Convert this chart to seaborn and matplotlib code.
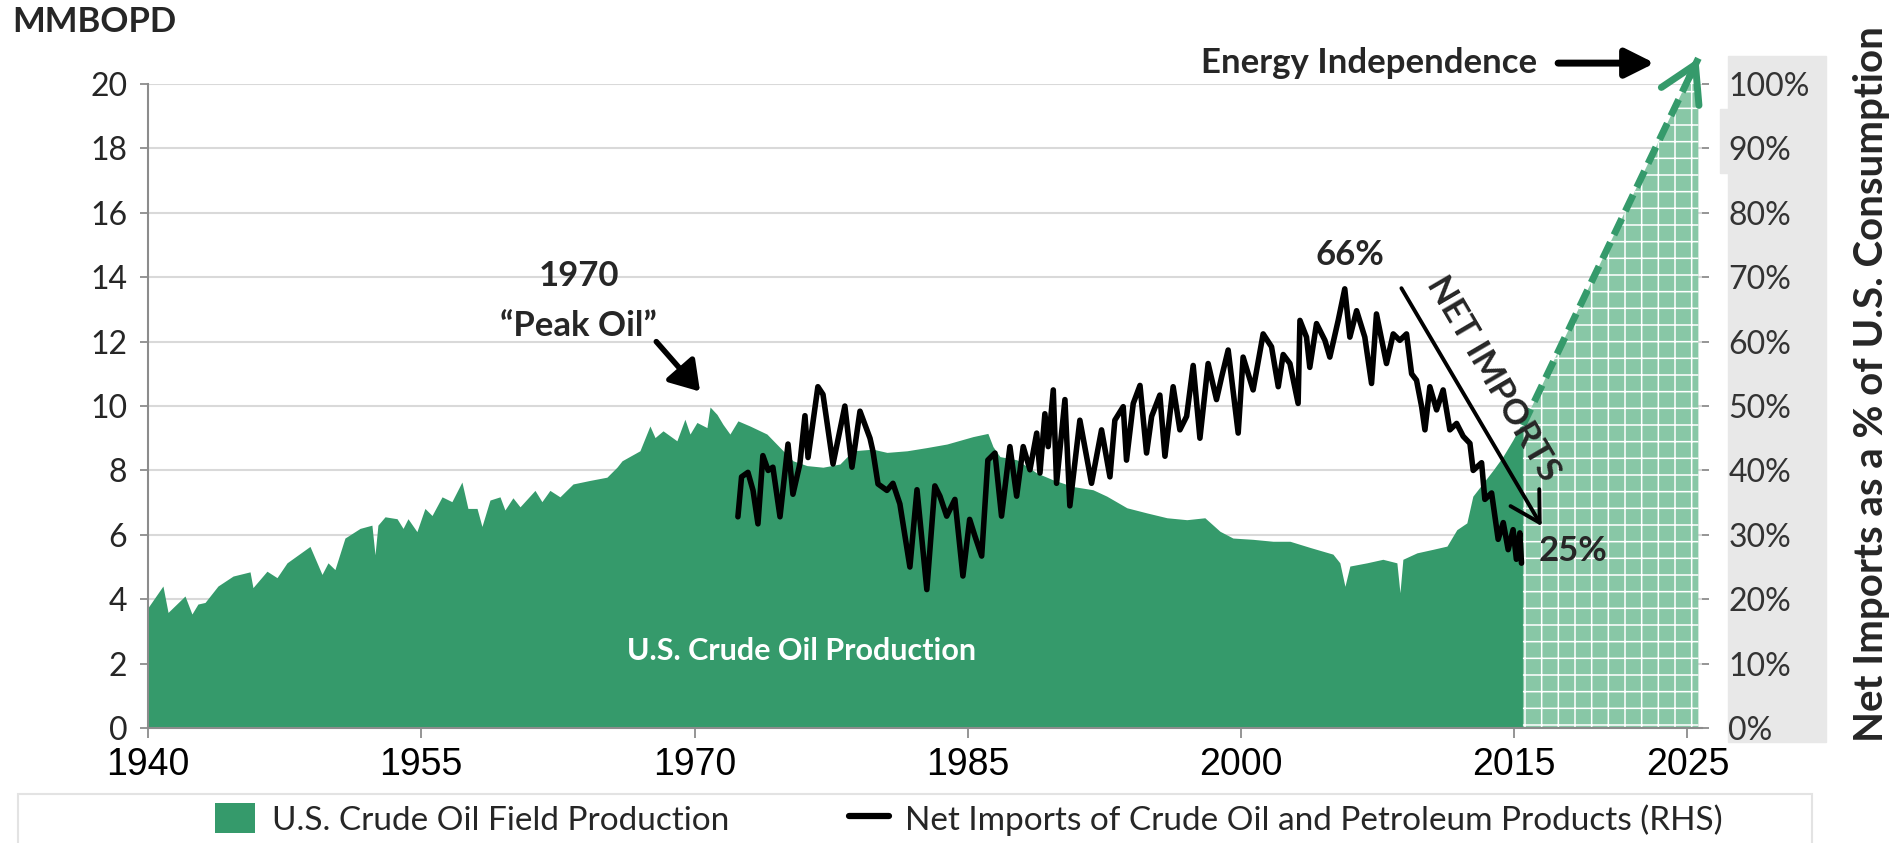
import numpy as np
import matplotlib
matplotlib.use('Agg')
import matplotlib.pyplot as plt
import matplotlib.ticker as mtick
import seaborn as sns
from matplotlib.patches import Patch, Rectangle
from matplotlib.lines import Line2D

# ── Style ─────────────────────────────────────────────────────
sns.set_theme(style="white")
plt.rcParams['font.family'] = ['Lato', 'DejaVu Sans']
plt.rcParams['hatch.linewidth'] = 1.1

GREEN = '#359A6B'
HATCH_FACE = '#88c7a6'
GRID = '#d9d9d9'
SPINE = '#8c8c8c'

# ── Data ──────────────────────────────────────────────────────
# U.S. crude oil field production, MMBOPD
prod_years = [1940.00, 1940.82, 1941.10, 1942.03, 1942.41, 1942.74, 1943.13, 1943.84,
              1944.67, 1945.60, 1945.76, 1946.53, 1947.08, 1947.63, 1948.89, 1949.55,
              1949.88, 1950.26, 1950.81, 1951.64, 1952.29, 1952.46, 1952.62, 1953.01,
              1953.67, 1954.00, 1954.27, 1954.76, 1955.20, 1955.59, 1956.14, 1956.68,
              1957.23, 1957.56, 1958.06, 1958.33, 1958.77, 1959.32, 1959.59, 1960.03,
              1960.42, 1961.24, 1961.62, 1962.06, 1962.61, 1963.33, 1964.26, 1965.19,
              1965.74, 1966.02, 1967.00, 1967.55, 1967.83, 1968.27, 1969.03, 1969.47,
              1969.75, 1970.13, 1970.68, 1970.85, 1971.23, 1971.56, 1971.94, 1972.38,
              1973.04, 1973.97, 1974.69, 1975.40, 1976.17, 1977.05, 1977.98, 1978.69,
              1979.79, 1980.56, 1981.66, 1982.75, 1983.85, 1985.28, 1986.10, 1986.38,
              1986.76, 1987.69, 1988.79, 1989.67, 1990.77, 1991.87, 1992.63, 1993.73,
              1994.83, 1995.93, 1997.02, 1998.01, 1998.84, 1999.55, 2000.65, 2001.75,
              2002.68, 2003.83, 2005.04, 2005.42, 2005.70, 2005.97, 2006.90, 2007.78,
              2008.55, 2008.72, 2008.88, 2009.65, 2010.53, 2011.30, 2011.84, 2012.39,
              2012.72, 2013.27, 2013.82, 2014.37, 2014.92, 2015.31, 2015.47]
prod_mmbopd = [3.74, 4.41, 3.59, 4.10, 3.54, 3.85, 3.90, 4.41,
               4.72, 4.85, 4.36, 4.87, 4.67, 5.13, 5.64, 4.77,
               5.13, 4.92, 5.90, 6.20, 6.30, 5.38, 6.30, 6.56,
               6.50, 6.20, 6.50, 6.10, 6.82, 6.60, 7.18, 7.03,
               7.64, 6.82, 6.82, 6.26, 7.08, 7.18, 6.77, 7.15,
               6.87, 7.38, 7.03, 7.38, 7.18, 7.58, 7.69, 7.79,
               8.10, 8.30, 8.61, 9.38, 9.02, 9.23, 8.92, 9.59,
               9.13, 9.49, 9.33, 9.97, 9.74, 9.43, 9.13, 9.54,
               9.38, 9.13, 8.71, 8.30, 8.15, 8.10, 8.20, 8.61,
               8.66, 8.56, 8.61, 8.71, 8.82, 9.05, 9.15, 8.74,
               8.43, 8.33, 7.92, 7.71, 7.50, 7.40, 7.20, 6.84,
               6.68, 6.53, 6.47, 6.53, 6.11, 5.90, 5.86, 5.80,
               5.80, 5.60, 5.40, 5.13, 4.40, 5.03, 5.13, 5.24,
               5.13, 4.20, 5.24, 5.44, 5.55, 5.65, 6.16, 6.37,
               7.20, 7.60, 8.00, 8.43, 8.95, 9.36, 9.40]

# Net imports of crude oil and petroleum products, % of U.S. consumption (RHS)
imp_years = [1972.38, 1972.58, 1972.93, 1973.21, 1973.48, 1973.75, 1974.04, 1974.30,
             1974.69, 1975.13, 1975.40, 1975.78, 1976.06, 1976.23, 1976.77, 1977.05,
             1977.60, 1978.25, 1978.64, 1979.08, 1979.63, 1979.79, 1980.07, 1980.56,
             1980.89, 1981.27, 1981.82, 1982.21, 1982.75, 1983.19, 1983.47, 1983.84,
             1984.29, 1984.73, 1985.10, 1985.39, 1985.76, 1986.10, 1986.49, 1986.85,
             1987.31, 1987.68, 1988.04, 1988.41, 1988.78, 1988.96, 1989.23, 1989.41,
             1989.69, 1989.87, 1990.33, 1990.60, 1991.15, 1991.79, 1992.34, 1992.80,
             1993.07, 1993.53, 1993.71, 1994.08, 1994.45, 1994.81, 1995.09, 1995.54,
             1995.82, 1996.27, 1996.64, 1997.01, 1997.37, 1997.74, 1998.19, 1998.65,
             1998.93, 1999.29, 1999.84, 2000.11, 2000.66, 2001.21, 2001.67, 2002.04,
             2002.31, 2002.68, 2003.13, 2003.23, 2003.59, 2003.77, 2004.14, 2004.60,
             2004.87, 2005.33, 2005.69, 2005.97, 2006.34, 2006.79, 2007.16, 2007.43,
             2007.98, 2008.35, 2008.71, 2009.08, 2009.36, 2009.63, 2009.91, 2010.09,
             2010.36, 2010.73, 2011.09, 2011.46, 2011.83, 2012.19, 2012.56, 2012.74,
             2013.20, 2013.38, 2013.75, 2014.11, 2014.39, 2014.66, 2014.93, 2015.11,
             2015.30, 2015.39]
imp_pct = [32.8, 39.0, 39.7, 36.9, 31.7, 42.3, 40.0, 40.5,
           32.8, 44.1, 36.3, 41.0, 48.5, 42.0, 53.0, 51.8,
           41.0, 50.0, 40.5, 49.2, 45.0, 43.0, 37.9, 36.9,
           38.0, 34.8, 25.0, 37.0, 21.5, 37.6, 36.0, 32.9,
           35.5, 23.6, 32.4, 29.8, 26.7, 41.6, 42.7, 32.9,
           43.7, 36.0, 43.7, 40.1, 45.8, 39.6, 48.8, 43.7,
           52.5, 38.0, 51.0, 34.5, 47.8, 38.0, 46.3, 39.0,
           47.8, 49.9, 41.6, 50.4, 53.2, 42.7, 48.4, 51.7,
           42.2, 53.0, 46.3, 48.4, 56.3, 45.0, 56.6, 51.0,
           54.5, 58.7, 45.8, 57.6, 52.5, 61.2, 59.2, 53.0,
           58.0, 56.6, 50.4, 63.3, 60.7, 56.0, 62.8, 60.2,
           57.6, 63.3, 68.2, 60.7, 64.8, 60.7, 53.5, 64.3,
           56.6, 61.2, 60.2, 61.2, 55.0, 54.0, 49.9, 46.3,
           53.0, 49.4, 52.5, 46.3, 47.3, 45.3, 44.2, 40.0,
           41.2, 35.5, 36.5, 29.3, 31.9, 27.7, 30.8, 26.2,
           30.3, 25.6]

# Projection toward energy independence (MMBOPD scale)
proj_years = [2015.47, 2025.1]
proj_mmbopd = [9.40, 20.8]

x_ticks = [1940, 1955, 1970, 1985, 2000, 2015, 2024.5]
x_labels = ['1940', '1955', '1970', '1985', '2000', '2015', '2025']

# ── Figure ────────────────────────────────────────────────────
fig = plt.figure(figsize=(19, 8.43), dpi=100)

# grey panel behind the RHS tick labels
fig.patches.append(Rectangle((1728 / 1900, 1 - 742 / 843), 98 / 1900, 686 / 843,
                             transform=fig.transFigure, color='#e8e8e8', zorder=-1))
fig.patches.append(Rectangle((1720 / 1900, 1 - 173 / 843), 10 / 1900, 64 / 843,
                             transform=fig.transFigure, color='#e8e8e8', zorder=-1))

ax = fig.add_axes([0.0779, 0.1364, 0.8179, 0.7639])
ax.set_xlim(1940, 2025.3)
ax.set_ylim(0, 20)
ax.set_yticks(range(0, 21, 2))
ax.grid(axis='y', color=GRID, lw=1.5)
ax.set_axisbelow(True)

ax.fill_between(prod_years, prod_mmbopd, color=GREEN, lw=0, zorder=2)
ax.fill_between(proj_years, proj_mmbopd, facecolor=HATCH_FACE, edgecolor='white',
                hatch='+', lw=0, zorder=2)
ax.plot(proj_years, proj_mmbopd, color=GREEN, lw=5, ls=(0, (2.6, 1.2)),
        clip_on=False, zorder=4)
tail_x = proj_years[-1] - 0.5
tail_y = np.interp(tail_x, proj_years, proj_mmbopd)
ax.annotate('', xy=(proj_years[-1], proj_mmbopd[-1]), xytext=(tail_x, tail_y),
            arrowprops=dict(arrowstyle='->,head_length=0.85,head_width=0.5', lw=5,
                            color=GREEN, shrinkA=0, shrinkB=0, mutation_scale=30),
            annotation_clip=False, zorder=4)

for side in ['top', 'right']:
    ax.spines[side].set_visible(False)
for side in ['left', 'bottom']:
    ax.spines[side].set_color(SPINE)
    ax.spines[side].set_linewidth(1.5)

ax.set_xticks(x_ticks)
ax.set_xticklabels(x_labels)
ax.xaxis.get_major_ticks()[-1].tick1line.set_visible(False)
ax.tick_params(axis='x', bottom=True, length=7, width=1.3, color=SPINE, pad=7,
               labelsize=27, labelcolor='black')
ax.tick_params(axis='y', left=True, length=6, width=1.3, color=SPINE, pad=9,
               labelsize=23, labelcolor='#262626')
for lbl in ax.get_xticklabels():
    lbl.set_fontfamily(['Liberation Sans Narrow', 'Liberation Sans'])

# ── RHS: net imports ─────────────────────────────────────────
ax2 = ax.twinx()
sns.lineplot(x=imp_years, y=imp_pct, ax=ax2, color='black', lw=4, zorder=5)
ax2.set_ylim(0, 100)
ax2.set_yticks(range(0, 101, 10))
ax2.yaxis.set_major_formatter(mtick.FuncFormatter(lambda v, _: f'{v:.0f}%'))
ax2.tick_params(axis='y', right=True, length=5, width=1.3, color=SPINE, pad=14,
                labelsize=23, labelcolor='#333333')
for s in ax2.spines.values():
    s.set_visible(False)
ax2.set_ylabel('')

# ── Annotations ───────────────────────────────────────────────
BOLD = dict(fontsize=25, fontweight='bold')
ax.text(1963.65, 14.05, '1970', ha='center', va='center', **BOLD)
ax.text(1963.65, 12.5, '“Peak Oil”', ha='center', va='center', **BOLD)
ax.annotate('', xy=(1970.3, 10.45), xytext=(1967.9, 12.0),
            arrowprops=dict(arrowstyle='-|>,head_length=0.7,head_width=0.45', lw=4,
                            color='black', mutation_scale=25, shrinkA=0, shrinkB=0))
ax.text(2006.0, 14.7, '66%', ha='center', va='center', **BOLD)
ax.annotate('', xy=(2016.5, 6.27), xytext=(2008.8, 13.66),
            arrowprops=dict(arrowstyle='->,head_length=0.7,head_width=0.4', lw=2.8,
                            color='black', mutation_scale=30, shrinkA=0, shrinkB=0),
            zorder=6)
ax.text(2013.85, 10.85, 'NET IMPORTS', ha='center', va='center', rotation=-59.6,
        rotation_mode='anchor', zorder=6, **BOLD)
ax.text(2018.2, 5.5, '25%', ha='center', va='center', zorder=6, **BOLD)
ax.text(2007.0, 20.65, 'Energy Independence', ha='center', va='center', **BOLD)
ax.annotate('', xy=(2022.7, 20.65), xytext=(2017.4, 20.65),
            arrowprops=dict(arrowstyle='-|>,head_length=0.7,head_width=0.35', lw=5,
                            color='black', mutation_scale=25, shrinkA=0, shrinkB=0),
            annotation_clip=False)
ax.text(1975.9, 2.4, 'U.S. Crude Oil Production', ha='center', va='center', fontsize=22,
        fontweight='bold', color='white', zorder=3)

fig.text(12 / 1900, 1 - 22 / 843, 'MMBOPD', ha='left', va='center', fontsize=25,
         fontweight='bold')
fig.text(1872 / 1900, 0.545, 'Net Imports as a % of U.S. Consumption', rotation=90,
         ha='center', va='center', fontsize=29, fontweight='bold')

# ── Legend ───────────────────────────────────────────────────
fig.patches.append(Rectangle((18 / 1900, -0.01), 1794 / 1900, 49 / 843 + 0.01,
                             transform=fig.transFigure, fill=False,
                             edgecolor='#e3e3e3', lw=1.5))
handles = [Patch(facecolor=GREEN, edgecolor='none'),
           Line2D([], [], color='black', lw=4.5)]
labels = ['U.S. Crude Oil Field Production',
          'Net Imports of Crude Oil and Petroleum Products (RHS)']
fig.legend(handles, labels, loc='center', bbox_to_anchor=(0.51, 0.028), ncol=2,
           frameon=False, fontsize=24, columnspacing=3.6, handlelength=1.2,
           handleheight=1.0, handletextpad=0.5)

fig.savefig('out.png', dpi=100)
